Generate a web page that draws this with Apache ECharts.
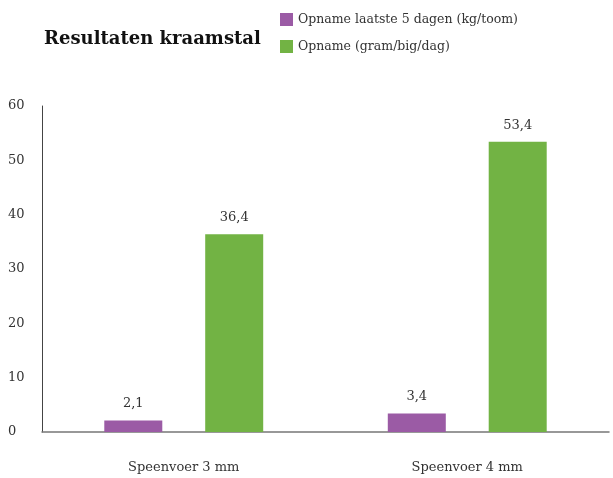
<!DOCTYPE html>
<html>
<head>
<meta charset="utf-8">
<title>Resultaten kraamstal</title>
<style>
  html, body { margin: 0; padding: 0; background: #fff; }
</style>
</head>
<body>
<div id="main" style="width: 613px;height:478px;"></div>
<script src="https://cdn.jsdelivr.net/npm/echarts@6/dist/echarts.min.js"></script>
<script>
    var categories = ['Speenvoer 3 mm', 'Speenvoer 4 mm'];
    var opnameToom = [2.1, 3.4];
    var opnameBig = [36.4, 53.4];
    var seriesNames = ['Opname laatste 5 dagen (kg/toom)', 'Opname (gram/big/dag)'];

    var font = 'DejaVu Serif';
    var myChart = echarts.init(document.getElementById('main'));

    function komma(p) {
        return String(p.value).replace('.', ',');
    }

    var option = {
        animation: false,
        title: {
            text: 'Resultaten kraamstal',
            left: 39,
            top: 25,
            textStyle: { fontFamily: font, fontWeight: 'bold', fontSize: 18, color: '#111' }
        },
        legend: {
            orient: 'vertical',
            left: 275,
            top: 8,
            itemWidth: 13,
            itemHeight: 13,
            itemGap: 14,
            icon: 'rect',
            textStyle: { fontFamily: font, fontSize: 12.5, color: '#333' },
            data: seriesNames
        },
        grid: { left: 42, right: 4, top: 106, bottom: 46 },
        xAxis: {
            type: 'category',
            data: categories,
            axisTick: { show: false },
            axisLine: { lineStyle: { color: '#777', width: 1.5 } },
            axisLabel: { margin: 29, fontFamily: font, fontSize: 13, color: '#333' }
        },
        yAxis: {
            type: 'value',
            min: 0,
            max: 60,
            interval: 10,
            splitLine: { show: false },
            axisLine: { show: true, lineStyle: { color: '#444', width: 1 } },
            axisLabel: { margin: 34, align: 'left', fontFamily: font, fontSize: 13, color: '#333' }
        },
        series: [{
            name: seriesNames[0],
            type: 'bar',
            data: opnameToom,
            barWidth: 58,
            barGap: '74%',
            itemStyle: { color: '#9b5ba5' },
            label: { show: true, position: 'top', distance: 10, formatter: komma,
                     fontFamily: font, fontSize: 13, color: '#333' }
        }, {
            name: seriesNames[1],
            type: 'bar',
            data: opnameBig,
            barWidth: 58,
            itemStyle: { color: '#72b344' },
            label: { show: true, position: 'top', distance: 10, formatter: komma,
                     fontFamily: font, fontSize: 13, color: '#333' }
        }]
    };
    myChart.setOption(option);
</script>
</body>
</html>
